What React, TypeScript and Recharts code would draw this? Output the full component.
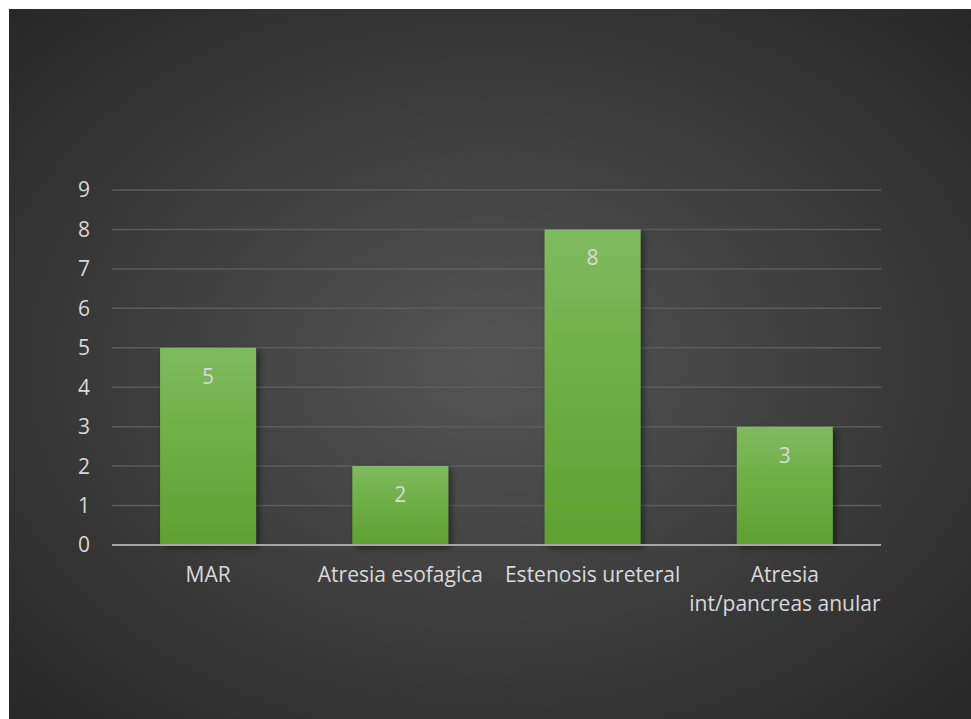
import { BarChart, Bar, XAxis, YAxis, CartesianGrid, LabelList } from 'recharts';

const categories = ['MAR', 'Atresia esofagica', 'Estenosis ureteral', 'Atresia\nint/pancreas anular'];
const counts = [5, 2, 8, 3];
const yTicks = [0, 1, 2, 3, 4, 5, 6, 7, 8, 9];

const data = categories.map((name, i) => ({ name, value: counts[i] }));

const FONT = '"Open Sans", sans-serif';
const TEXT = '#d9d9d9';

const CategoryTick = (props: any) => {
  const { x, y, payload } = props;
  const lines = String(payload.value).split('\n');
  return (
    <text x={x} y={y} textAnchor="middle" fill={TEXT} fontSize={21} fontFamily={FONT}>
      {lines.map((line, i) => (
        <tspan key={i} x={x} dy={i === 0 ? '0.71em' : 29}>
          {line}
        </tspan>
      ))}
    </text>
  );
};

export default function App() {
  return (
    <div
      style={{
        position: 'absolute',
        left: 9,
        top: 9,
        width: 962,
        height: 710,
        background: 'radial-gradient(ellipse farthest-corner at 50% 50%, #555555 0%, #3b3b3b 55%, #272727 100%)',
      }}
    >
      <BarChart
        width={962}
        height={710}
        data={data}
        margin={{ top: 181, right: 90, left: 0, bottom: 0 }}
        barCategoryGap="25%"
      >
        <defs>
          <linearGradient id="barFill" x1="0" y1="0" x2="0" y2="1">
            <stop offset="0%" stopColor="#80ba60" />
            <stop offset="50%" stopColor="#6cae43" />
            <stop offset="100%" stopColor="#5ea131" />
          </linearGradient>
          <filter id="barShadow" x="-20%" y="-20%" width="140%" height="140%">
            <feDropShadow dx="3" dy="3" stdDeviation="3" floodColor="#000" floodOpacity="0.45" />
          </filter>
        </defs>
        <CartesianGrid vertical={false} stroke="#5c5c5c" strokeWidth={1.5} />
        <XAxis
          dataKey="name"
          axisLine={{ stroke: '#a6a6a6', strokeWidth: 2 }}
          tickLine={false}
          tickSize={0}
          tickMargin={22}
          height={174}
          interval={0}
          tick={<CategoryTick />}
        />
        <YAxis
          domain={[0, 9]}
          ticks={yTicks}
          width={103}
          axisLine={false}
          tickLine={false}
          tickSize={0}
          tickMargin={22}
          tick={{ fill: TEXT, fontSize: 21, fontFamily: FONT }}
        />
        <Bar dataKey="value" fill="url(#barFill)" filter="url(#barShadow)" isAnimationActive={false}>
          <LabelList dataKey="value" position="insideTop" offset={21} fill={TEXT} fontSize={21} fontFamily={FONT} />
        </Bar>
      </BarChart>
    </div>
  );
}
